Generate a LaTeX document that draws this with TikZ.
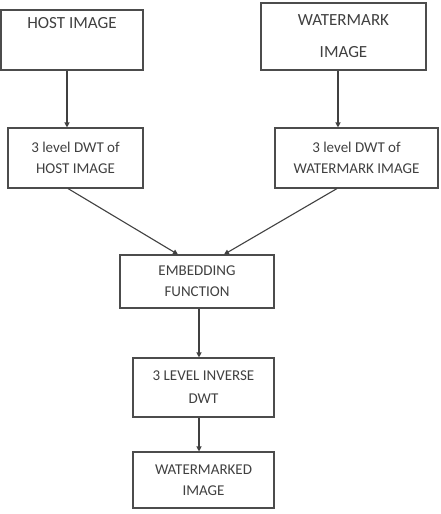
\documentclass[tikz,border=0pt]{standalone}
\usepackage{fontspec}
\setmainfont{Carlito}
\usetikzlibrary{arrows.meta}
\begin{document}
\begin{tikzpicture}[x=1pt, y=-1pt,
    blk/.style={draw=black!70, line width=1.1pt, text=black!75, align=center, inner sep=0pt,
        font=\fontsize{15}{21}\selectfont},
    topblk/.style={blk, line width=1.6pt, font=\fontsize{17}{26}\selectfont},
    flow/.style={draw=black!75, line width=1.1pt, -{Triangle[length=5pt,width=5pt]}}]
    \useasboundingbox (0,0) rectangle (440,514);
    % input images
    \node[topblk, minimum width=142pt, minimum height=60pt] (host) at (72,40) {HOST IMAGE\\\strut};
    \node[topblk, minimum width=165pt, minimum height=67pt] (mark) at (343.5,36.5) {WATERMARK\\[6pt]IMAGE};
    % transforms
    \node[blk, minimum width=135pt, minimum height=60pt] (hostdwt) at (75.5,158) {3 level DWT of\\HOST IMAGE};
    \node[blk, minimum width=163pt, minimum height=60pt] (markdwt) at (356.5,158) {3 level DWT of\\WATERMARK IMAGE};
    \node[blk, minimum width=154pt, minimum height=53pt] (embed) at (197,281.5) {EMBEDDING\\FUNCTION};
    \node[blk, minimum width=141pt, minimum height=59pt] (idwt) at (203.5,387.5) {3 LEVEL INVERSE\\[2pt]DWT};
    \node[blk, minimum width=141pt, minimum height=56pt] (out) at (203.5,480) {WATERMARKED\\IMAGE};
    % connectors
    \draw[flow] ([xshift=-5pt]host.south) -- ([xshift=-5pt]host.south |- hostdwt.north);
    \draw[flow] ([xshift=-5.5pt]mark.south) -- ([xshift=-5.5pt]mark.south |- markdwt.north);
    \draw[flow] ([xshift=-7.5pt]hostdwt.south) -- ([xshift=-19pt]embed.north);
    \draw[flow] ([xshift=-19.5pt]markdwt.south) -- ([xshift=27pt]embed.north);
    \draw[flow] ([xshift=2pt]embed.south) -- ([xshift=2pt]embed.south |- idwt.north);
    \draw[flow] ([xshift=-4.5pt]idwt.south) -- ([xshift=-4.5pt]idwt.south |- out.north);
\end{tikzpicture}
\end{document}
